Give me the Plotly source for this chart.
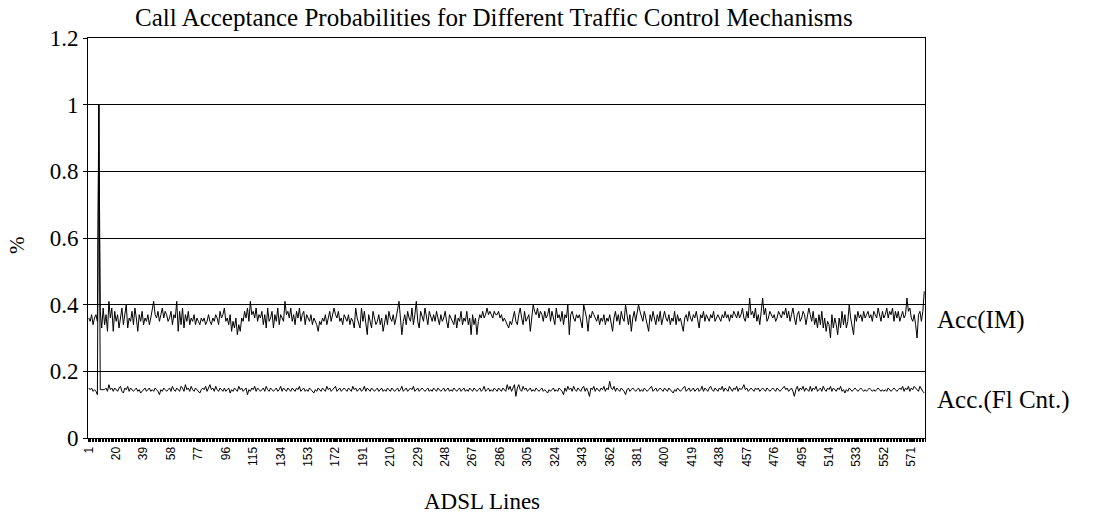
import plotly.graph_objects as go

title_text = "Call Acceptance Probabilities for Different Traffic Control Mechanisms"
x_title = "ADSL Lines"
y_title = "%"
series_names = ["Acc(IM)", "Acc.(Fl Cnt.)"]

acc_im = [
    0.36, 0.35, 0.37, 0.34, 0.36, 0.37, 0.35, 1.00, 0.38, 0.33, 0.39, 0.34, 0.37, 0.32, 0.41, 0.36, 0.39, 0.32, 0.38, 0.35,
    0.37, 0.33, 0.36, 0.39, 0.34, 0.38, 0.40, 0.33, 0.36, 0.35, 0.38, 0.34, 0.39, 0.36, 0.32, 0.37, 0.35, 0.38, 0.34, 0.36,
    0.35, 0.37, 0.34, 0.36, 0.38, 0.41, 0.37, 0.36, 0.38, 0.35, 0.37, 0.39, 0.36, 0.38, 0.37, 0.35, 0.36, 0.38, 0.34, 0.37,
    0.36, 0.41, 0.32, 0.38, 0.34, 0.39, 0.33, 0.37, 0.35, 0.38, 0.34, 0.36, 0.35, 0.37, 0.34, 0.36, 0.35, 0.34, 0.36, 0.35,
    0.36, 0.34, 0.35, 0.37, 0.35, 0.34, 0.36, 0.35, 0.37, 0.36, 0.34, 0.38, 0.36, 0.37, 0.39, 0.35, 0.36, 0.34, 0.37, 0.32,
    0.35, 0.33, 0.36, 0.31, 0.34, 0.32, 0.36, 0.35, 0.38, 0.36, 0.39, 0.35, 0.41, 0.37, 0.38, 0.36, 0.39, 0.35, 0.37, 0.36,
    0.38, 0.34, 0.37, 0.33, 0.39, 0.35, 0.36, 0.38, 0.33, 0.37, 0.35, 0.39, 0.34, 0.37, 0.36, 0.35, 0.41, 0.37, 0.38, 0.36,
    0.39, 0.35, 0.37, 0.34, 0.38, 0.36, 0.39, 0.35, 0.37, 0.38, 0.34, 0.37, 0.36, 0.35, 0.37, 0.34, 0.36, 0.35, 0.34, 0.32,
    0.35, 0.34, 0.36, 0.35, 0.37, 0.34, 0.36, 0.38, 0.35, 0.37, 0.39, 0.37, 0.36, 0.38, 0.35, 0.36, 0.34, 0.37, 0.36, 0.35,
    0.37, 0.34, 0.36, 0.35, 0.33, 0.39, 0.36, 0.34, 0.33, 0.39, 0.35, 0.38, 0.34, 0.31, 0.37, 0.35, 0.33, 0.38, 0.36, 0.34,
    0.35, 0.37, 0.34, 0.36, 0.32, 0.35, 0.37, 0.34, 0.38, 0.36, 0.35, 0.37, 0.34, 0.36, 0.38, 0.41, 0.36, 0.31, 0.35, 0.37,
    0.34, 0.38, 0.36, 0.35, 0.39, 0.34, 0.37, 0.41, 0.35, 0.33, 0.38, 0.36, 0.35, 0.39, 0.37, 0.34, 0.38, 0.36, 0.35, 0.37,
    0.35, 0.38, 0.36, 0.34, 0.37, 0.35, 0.36, 0.38, 0.35, 0.33, 0.37, 0.36, 0.35, 0.34, 0.37, 0.33, 0.36, 0.35, 0.38, 0.34,
    0.36, 0.35, 0.38, 0.34, 0.36, 0.31, 0.37, 0.34, 0.36, 0.31, 0.35, 0.37, 0.36, 0.38, 0.36, 0.37, 0.39, 0.37, 0.38, 0.37,
    0.36, 0.38, 0.37, 0.37, 0.38, 0.36, 0.37, 0.35, 0.36, 0.35, 0.34, 0.33, 0.35, 0.34, 0.36, 0.38, 0.35, 0.34, 0.37, 0.39,
    0.36, 0.34, 0.38, 0.35, 0.36, 0.37, 0.32, 0.36, 0.40, 0.38, 0.37, 0.39, 0.36, 0.38, 0.37, 0.35, 0.38, 0.36, 0.37, 0.39,
    0.35, 0.38, 0.36, 0.34, 0.39, 0.36, 0.37, 0.35, 0.38, 0.34, 0.37, 0.36, 0.40, 0.31, 0.37, 0.38, 0.36, 0.35, 0.37, 0.36,
    0.37, 0.35, 0.33, 0.40, 0.38, 0.36, 0.32, 0.37, 0.36, 0.38, 0.37, 0.36, 0.35, 0.37, 0.34, 0.36, 0.35, 0.37, 0.34, 0.36,
    0.35, 0.37, 0.34, 0.32, 0.36, 0.38, 0.35, 0.37, 0.34, 0.38, 0.36, 0.35, 0.40, 0.36, 0.34, 0.37, 0.32, 0.36, 0.38, 0.35,
    0.37, 0.40, 0.38, 0.36, 0.35, 0.38, 0.36, 0.34, 0.32, 0.37, 0.35, 0.38, 0.36, 0.34, 0.37, 0.35, 0.38, 0.34, 0.36, 0.38,
    0.36, 0.35, 0.37, 0.34, 0.36, 0.35, 0.38, 0.34, 0.37, 0.35, 0.36, 0.34, 0.32, 0.36, 0.37, 0.35, 0.38, 0.36, 0.35, 0.37,
    0.36, 0.38, 0.35, 0.33, 0.37, 0.36, 0.38, 0.35, 0.37, 0.36, 0.35, 0.37, 0.36, 0.38, 0.35, 0.36, 0.37, 0.36, 0.35, 0.37,
    0.36, 0.38, 0.36, 0.37, 0.35, 0.37, 0.36, 0.38, 0.37, 0.36, 0.38, 0.36, 0.37, 0.39, 0.36, 0.35, 0.38, 0.36, 0.42, 0.37,
    0.38, 0.36, 0.39, 0.35, 0.37, 0.34, 0.38, 0.42, 0.37, 0.39, 0.35, 0.36, 0.38, 0.37, 0.36, 0.37, 0.35, 0.36, 0.38, 0.37,
    0.36, 0.38, 0.37, 0.39, 0.36, 0.38, 0.35, 0.37, 0.39, 0.36, 0.34, 0.37, 0.38, 0.35, 0.36, 0.38, 0.37, 0.34, 0.36, 0.39,
    0.37, 0.35, 0.38, 0.34, 0.36, 0.33, 0.37, 0.34, 0.38, 0.33, 0.36, 0.32, 0.35, 0.34, 0.30, 0.37, 0.33, 0.36, 0.34, 0.31,
    0.36, 0.33, 0.38, 0.34, 0.37, 0.33, 0.35, 0.40, 0.36, 0.34, 0.31, 0.37, 0.35, 0.38, 0.36, 0.37, 0.35, 0.38, 0.36, 0.37,
    0.38, 0.36, 0.37, 0.35, 0.38, 0.37, 0.36, 0.39, 0.37, 0.35, 0.38, 0.36, 0.37, 0.39, 0.36, 0.38, 0.37, 0.39, 0.35, 0.38,
    0.36, 0.38, 0.35, 0.37, 0.38, 0.36, 0.37, 0.42, 0.38, 0.39, 0.36, 0.35, 0.37, 0.34, 0.30, 0.37, 0.38, 0.35, 0.38, 0.44,
]

acc_fl = [
    0.15, 0.145, 0.15, 0.14, 0.145, 0.14, 0.13, 1.00, 0.145, 0.145, 0.145, 0.145, 0.15, 0.14, 0.16, 0.145, 0.15, 0.14, 0.15, 0.145,
    0.14, 0.15, 0.155, 0.14, 0.135, 0.15, 0.145, 0.155, 0.14, 0.15, 0.145, 0.14, 0.145, 0.15, 0.14, 0.145, 0.135, 0.14, 0.145, 0.15,
    0.14, 0.145, 0.15, 0.14, 0.145, 0.14, 0.15, 0.145, 0.14, 0.13, 0.145, 0.14, 0.15, 0.145, 0.14, 0.145, 0.15, 0.14, 0.155, 0.145,
    0.14, 0.15, 0.145, 0.14, 0.155, 0.15, 0.14, 0.16, 0.145, 0.15, 0.14, 0.155, 0.145, 0.14, 0.15, 0.145, 0.14, 0.135, 0.145, 0.15,
    0.145, 0.155, 0.14, 0.15, 0.16, 0.145, 0.15, 0.14, 0.155, 0.145, 0.14, 0.15, 0.145, 0.14, 0.15, 0.14, 0.145, 0.15, 0.135, 0.145,
    0.14, 0.15, 0.145, 0.14, 0.155, 0.145, 0.15, 0.14, 0.145, 0.15, 0.13, 0.145, 0.14, 0.15, 0.145, 0.155, 0.14, 0.15, 0.145, 0.14,
    0.145, 0.15, 0.14, 0.155, 0.145, 0.14, 0.15, 0.145, 0.14, 0.145, 0.15, 0.14, 0.145, 0.155, 0.14, 0.15, 0.145, 0.14, 0.15, 0.145,
    0.14, 0.15, 0.145, 0.14, 0.15, 0.145, 0.155, 0.14, 0.145, 0.15, 0.14, 0.145, 0.14, 0.15, 0.145, 0.14, 0.135, 0.145, 0.14, 0.15,
    0.145, 0.14, 0.15, 0.145, 0.14, 0.155, 0.145, 0.15, 0.14, 0.145, 0.15, 0.155, 0.14, 0.145, 0.15, 0.14, 0.145, 0.15, 0.145, 0.14,
    0.15, 0.145, 0.14, 0.155, 0.145, 0.15, 0.14, 0.145, 0.15, 0.14, 0.145, 0.155, 0.14, 0.15, 0.145, 0.14, 0.15, 0.145, 0.14, 0.145,
    0.15, 0.14, 0.145, 0.15, 0.14, 0.145, 0.14, 0.15, 0.145, 0.14, 0.15, 0.145, 0.14, 0.145, 0.15, 0.14, 0.145, 0.155, 0.14, 0.145,
    0.15, 0.14, 0.145, 0.15, 0.145, 0.155, 0.14, 0.145, 0.15, 0.14, 0.145, 0.15, 0.145, 0.14, 0.145, 0.15, 0.14, 0.145, 0.14, 0.15,
    0.145, 0.14, 0.15, 0.145, 0.14, 0.145, 0.15, 0.14, 0.145, 0.15, 0.14, 0.145, 0.14, 0.15, 0.145, 0.14, 0.145, 0.15, 0.14, 0.145,
    0.15, 0.14, 0.145, 0.14, 0.15, 0.145, 0.14, 0.15, 0.145, 0.14, 0.145, 0.15, 0.14, 0.145, 0.155, 0.14, 0.145, 0.15, 0.14, 0.145,
    0.14, 0.15, 0.145, 0.14, 0.15, 0.145, 0.14, 0.15, 0.145, 0.14, 0.16, 0.145, 0.155, 0.14, 0.15, 0.16, 0.125, 0.15, 0.16, 0.145,
    0.14, 0.155, 0.145, 0.15, 0.14, 0.145, 0.15, 0.14, 0.145, 0.14, 0.15, 0.145, 0.14, 0.145, 0.15, 0.14, 0.145, 0.14, 0.135, 0.145,
    0.14, 0.145, 0.15, 0.14, 0.145, 0.14, 0.15, 0.145, 0.14, 0.13, 0.15, 0.14, 0.155, 0.145, 0.15, 0.14, 0.155, 0.145, 0.14, 0.15,
    0.145, 0.14, 0.15, 0.155, 0.14, 0.15, 0.14, 0.125, 0.15, 0.145, 0.155, 0.14, 0.15, 0.145, 0.14, 0.15, 0.145, 0.155, 0.14, 0.15,
    0.145, 0.17, 0.15, 0.145, 0.155, 0.14, 0.15, 0.145, 0.14, 0.15, 0.145, 0.14, 0.13, 0.145, 0.15, 0.14, 0.145, 0.15, 0.145, 0.14,
    0.145, 0.15, 0.14, 0.145, 0.14, 0.15, 0.145, 0.14, 0.145, 0.15, 0.155, 0.14, 0.145, 0.15, 0.14, 0.145, 0.15, 0.145, 0.14, 0.15,
    0.145, 0.14, 0.15, 0.145, 0.14, 0.135, 0.145, 0.14, 0.15, 0.145, 0.14, 0.145, 0.15, 0.155, 0.14, 0.145, 0.15, 0.14, 0.145, 0.15,
    0.14, 0.145, 0.15, 0.14, 0.145, 0.155, 0.14, 0.15, 0.145, 0.14, 0.15, 0.155, 0.145, 0.14, 0.15, 0.145, 0.14, 0.15, 0.145, 0.155,
    0.14, 0.15, 0.145, 0.14, 0.155, 0.145, 0.14, 0.15, 0.145, 0.155, 0.14, 0.15, 0.145, 0.15, 0.16, 0.145, 0.15, 0.14, 0.145, 0.15,
    0.145, 0.14, 0.15, 0.145, 0.15, 0.14, 0.145, 0.15, 0.145, 0.14, 0.15, 0.145, 0.14, 0.145, 0.15, 0.145, 0.14, 0.15, 0.145, 0.14,
    0.145, 0.15, 0.155, 0.145, 0.15, 0.14, 0.145, 0.15, 0.14, 0.125, 0.145, 0.155, 0.14, 0.15, 0.145, 0.155, 0.14, 0.15, 0.145, 0.14,
    0.155, 0.14, 0.15, 0.145, 0.155, 0.14, 0.145, 0.15, 0.14, 0.155, 0.145, 0.14, 0.15, 0.145, 0.155, 0.14, 0.15, 0.145, 0.14, 0.15,
    0.145, 0.155, 0.14, 0.145, 0.135, 0.145, 0.14, 0.15, 0.145, 0.14, 0.145, 0.15, 0.145, 0.14, 0.145, 0.15, 0.145, 0.14, 0.145, 0.14,
    0.145, 0.15, 0.145, 0.14, 0.145, 0.14, 0.145, 0.15, 0.145, 0.14, 0.145, 0.14, 0.145, 0.14, 0.15, 0.145, 0.14, 0.145, 0.15, 0.145,
    0.14, 0.145, 0.15, 0.145, 0.155, 0.14, 0.15, 0.145, 0.155, 0.14, 0.15, 0.145, 0.155, 0.15, 0.145, 0.14, 0.155, 0.145, 0.14, 0.135,
]

x_tick_values = list(range(1, 572, 19))
x_tick_labels = [str(v) for v in x_tick_values]
y_tick_values = [0, 0.2, 0.4, 0.6, 0.8, 1.0, 1.2]
y_tick_labels = ["0", "0.2", "0.4", "0.6", "0.8", "1", "1.2"]

n_lines = max(len(acc_im), len(acc_fl))
x_im = list(range(1, len(acc_im) + 1))
x_fl = list(range(1, len(acc_fl) + 1))

serif = "Liberation Serif, Times New Roman, serif"
sans = "Liberation Sans, Arial, sans-serif"

fig = go.Figure()
fig.add_trace(go.Scatter(x=x_im, y=acc_im, mode="lines", name=series_names[0],
                         line=dict(color="black", width=1)))
fig.add_trace(go.Scatter(x=x_fl, y=acc_fl, mode="lines", name=series_names[1],
                         line=dict(color="black", width=1)))

fig.update_layout(
    width=1095, height=517,
    margin=dict(l=88, r=170, t=38, b=79),
    paper_bgcolor="white", plot_bgcolor="white",
    showlegend=False,
    title=dict(text=title_text, x=0.485, xref="paper", xanchor="center",
               y=1 - 17 / 517, yref="container", yanchor="middle",
               font=dict(family=serif, size=25, color="black")),
    xaxis=dict(range=[0.5, n_lines + 0.5], tickmode="array",
               tickvals=x_tick_values, ticktext=x_tick_labels,
               tickangle=-90, tickfont=dict(family=sans, size=12, color="black"),
               showgrid=False, zeroline=False, showline=True, linecolor="black",
               linewidth=1, mirror=True, ticks="outside", ticklen=3,
               tickcolor="black", tickwidth=1,
               minor=dict(dtick=1, tick0=0.5, ticks="outside", ticklen=3,
                          tickcolor="black", tickwidth=1, showgrid=False)),
    yaxis=dict(range=[0, 1.2], tickmode="array", tickvals=y_tick_values,
               ticktext=y_tick_labels, tickfont=dict(family=serif, size=23, color="black"),
               showgrid=True, gridcolor="black", gridwidth=1, zeroline=False,
               showline=True, linecolor="black", linewidth=1, mirror=True,
               ticks="outside", ticklen=4, tickcolor="black"),
)

fig.add_annotation(text=x_title, xref="paper", yref="paper", x=(482 - 88) / 837,
                   y=(438 - 502) / 400, showarrow=False, xanchor="center", yanchor="middle",
                   font=dict(family=serif, size=23, color="black"))
fig.add_annotation(text=y_title, xref="paper", yref="paper", x=(17 - 88) / 837,
                   y=(438 - 245) / 400, showarrow=False, textangle=-90,
                   xanchor="center", yanchor="middle",
                   font=dict(family=serif, size=21, color="black"))
fig.add_annotation(text=series_names[0], xref="paper", yref="paper", x=(935 - 88) / 837,
                   y=(438 - 320) / 400, showarrow=False, xanchor="left", yanchor="middle",
                   font=dict(family=serif, size=25, color="black"))
fig.add_annotation(text=series_names[1], xref="paper", yref="paper", x=(935 - 88) / 837,
                   y=(438 - 400) / 400, showarrow=False, xanchor="left", yanchor="middle",
                   font=dict(family=serif, size=25, color="black"))

fig.write_html("out.html", config={"displayModeBar": False},
               post_script="document.body.style.margin='0px';document.body.style.padding='0px';")
